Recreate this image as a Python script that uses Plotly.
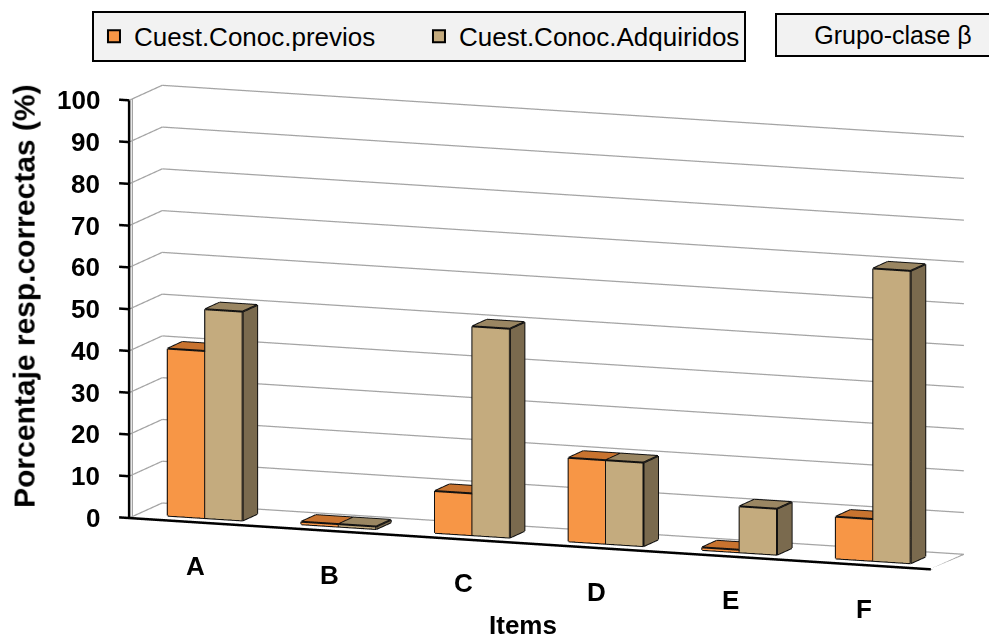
import plotly.graph_objects as go

# Data
items = ["A", "B", "C", "D", "E", "F"]
previos = [40, 0, 10, 20, 0, 10]
adquiridos = [50, 0, 50, 20, 11, 70]
series_names = ["Cuest.Conoc.previos", "Cuest.Conoc.Adquiridos"]
z_ticks = list(range(0, 101, 10))

FONT = "Arial, Liberation Sans, sans-serif"
GRID = "#A4A4A4"
N = len(items)

# Face colours per series
palette = {
    series_names[0]: dict(front="#F79646", side="#9C4F17", top="#C8732F"),
    series_names[1]: dict(front="#C4AB7E", side="#7A6A4E", top="#9A8662"),
}

BAR_W = 0.28          # width of one column in category units
DEPTH = (0.28, 0.72)  # column depth inside the floor
MIN_H = 0.6           # zero-valued columns still draw as a flat plate
TICK_LEN = 0.075      # value-axis tick length, in category units


def boxes(values, offset, colors):
    xs, ys, zs, ii, jj, kk, fc = [], [], [], [], [], [], []
    ex, ey, ez = [], [], []
    for k, v in enumerate(values):
        c = k + 0.5
        x0, x1 = c + offset, c + offset + BAR_W
        y0, y1 = DEPTH
        z0, z1 = 0, max(v, MIN_H)
        b = len(xs)
        pts = [(x0, y0, z0), (x1, y0, z0), (x1, y1, z0), (x0, y1, z0),
               (x0, y0, z1), (x1, y0, z1), (x1, y1, z1), (x0, y1, z1)]
        for p in pts:
            xs.append(p[0]); ys.append(p[1]); zs.append(p[2])
        tris = [
            ((0, 1, 5), colors["front"]), ((0, 5, 4), colors["front"]),
            ((3, 2, 6), colors["side"]), ((3, 6, 7), colors["side"]),
            ((0, 3, 7), colors["side"]), ((0, 7, 4), colors["side"]),
            ((1, 2, 6), colors["side"]), ((1, 6, 5), colors["side"]),
            ((0, 1, 2), colors["side"]), ((0, 2, 3), colors["side"]),
            ((4, 5, 6), colors["top"]), ((4, 6, 7), colors["top"]),
        ]
        for (a, bb, cc), col in tris:
            ii.append(b + a); jj.append(b + bb); kk.append(b + cc); fc.append(col)
        edges = [(0, 1), (1, 2), (2, 3), (3, 0), (4, 5), (5, 6), (6, 7), (7, 4),
                 (0, 4), (1, 5), (2, 6), (3, 7)]
        for a, bb in edges:
            for idx in (a, bb):
                ex.append(pts[idx][0]); ey.append(pts[idx][1]); ez.append(pts[idx][2])
            ex.append(None); ey.append(None); ez.append(None)
    mesh = go.Mesh3d(x=xs, y=ys, z=zs, i=ii, j=jj, k=kk, facecolor=fc,
                     flatshading=True, hoverinfo="skip", showlegend=False,
                     lighting=dict(ambient=1, diffuse=0, specular=0, roughness=1, fresnel=0))
    lines = go.Scatter3d(x=ex, y=ey, z=ez, mode="lines", hoverinfo="skip",
                         line=dict(color="#111111", width=4), showlegend=False)
    return [mesh, lines]


def segments(pairs):
    xs, ys, zs = [], [], []
    for p, q in pairs:
        xs += [p[0], q[0], None]; ys += [p[1], q[1], None]; zs += [p[2], q[2], None]
    return xs, ys, zs


fig = go.Figure()

# Wall gridlines (left wall + back wall), the right floor edge and the axis shade
grid_pairs = []
for v in z_ticks:
    grid_pairs.append(((0, 0, v), (0, 1, v)))
    grid_pairs.append(((0, 1, v), (N, 1, v)))
grid_pairs.append(((N, 0, 0), (N, 1, 0)))
grid_pairs.append(((0, 0.1, 0), (0, 0.1, 100)))
gx, gy, gz = segments(grid_pairs)
fig.add_trace(go.Scatter3d(x=gx, y=gy, z=gz, mode="lines", hoverinfo="skip", showlegend=False,
                           line=dict(color=GRID, width=2.5)))

for name, vals, off in [(series_names[0], previos, -BAR_W), (series_names[1], adquiridos, 0.0)]:
    for tr in boxes(vals, off, palette[name]):
        fig.add_trace(tr)

# Axis lines and value-axis tick marks
axis_pairs = [((0, 0, 0), (0, 0, 100)), ((0, 0, 0), (N, 0, 0))]
axis_pairs += [((-TICK_LEN, 0, v), (0, 0, v)) for v in z_ticks]
ax_x, ax_y, ax_z = segments(axis_pairs)
fig.add_trace(go.Scatter3d(x=ax_x, y=ax_y, z=ax_z, mode="lines", hoverinfo="skip", showlegend=False,
                           line=dict(color="black", width=5)))

# Legend entries
for name in series_names:
    fig.add_trace(go.Bar(x=[None], y=[None], name=name,
                         marker=dict(color=palette[name]["front"], line=dict(color="black", width=2))))

eye_dir = (0.3753, -1.0, 0.1849)
t = 1.5
S = 1.35  # overall scene scale
x_span = N + TICK_LEN

tick_font = dict(size=26, family=FONT, color="black", weight="bold")
scene_ann = [dict(x=0, y=0, z=v, text=str(v), showarrow=False, xanchor="right", xshift=-27,
                  font=tick_font) for v in z_ticks]
scene_ann += [dict(x=k + 0.5, y=0, z=0, text=lab, showarrow=False, yshift=-44,
                   font=tick_font) for k, lab in enumerate(items)]

fig.update_layout(
    width=989, height=641,
    margin=dict(l=0, r=0, t=0, b=0),
    paper_bgcolor="white",
    plot_bgcolor="rgba(0,0,0,0)",
    font=dict(family=FONT, color="black"),
    xaxis=dict(visible=False, domain=[0, 0.01]),
    yaxis=dict(visible=False, domain=[0, 0.01]),
    showlegend=True,
    legend=dict(orientation="h", x=0.093, y=0.983, xanchor="left", yanchor="top",
                bgcolor="#F2F2F2", bordercolor="black", borderwidth=2,
                font=dict(size=26, family=FONT), itemwidth=30, entrywidth=280),
    scene=dict(
        domain=dict(x=[0.1, 0.995], y=[0.0, 0.98]),
        aspectmode="manual",
        aspectratio=dict(x=2.02 * S * x_span / N, y=0.222 * S, z=1.0 * S),
        camera=dict(projection=dict(type="orthographic"),
                    eye=dict(x=eye_dir[0] * t, y=eye_dir[1] * t, z=eye_dir[2] * t),
                    up=dict(x=0, y=0, z=1), center=dict(x=0, y=0, z=0)),
        xaxis=dict(range=[-TICK_LEN, N], showgrid=False, zeroline=False, showline=False,
                   showbackground=False, showspikes=False, ticks="", showticklabels=False,
                   title=dict(text="")),
        yaxis=dict(range=[0, 1], showgrid=False, zeroline=False, showline=False,
                   showticklabels=False, showbackground=False, showspikes=False, ticks="",
                   title=dict(text="")),
        zaxis=dict(range=[0, 100], showgrid=False, zeroline=False, showline=False, ticks="",
                   showbackground=False, showspikes=False, showticklabels=False,
                   title=dict(text="")),
        annotations=scene_ann,
    ),
    annotations=[
        dict(text="Porcentaje resp.correctas (%)", x=0.024, y=0.538, xref="paper", yref="paper",
             xanchor="center", yanchor="middle", textangle=-90, showarrow=False,
             font=dict(size=30, family=FONT, color="black", weight="bold")),
        dict(text="Items", x=0.529, y=0.025, xref="paper", yref="paper",
             xanchor="center", yanchor="middle", showarrow=False,
             font=dict(size=26, family=FONT, color="black", weight="bold")),
        dict(text="Grupo-clase β", x=0.784, y=0.98, xref="paper", yref="paper", xanchor="left", yanchor="top",
             showarrow=False, bgcolor="#F2F2F2", bordercolor="black", borderwidth=2, width=230, height=38,
             font=dict(size=25, family=FONT, color="black")),
    ],
)

fig.write_html("out.html")
